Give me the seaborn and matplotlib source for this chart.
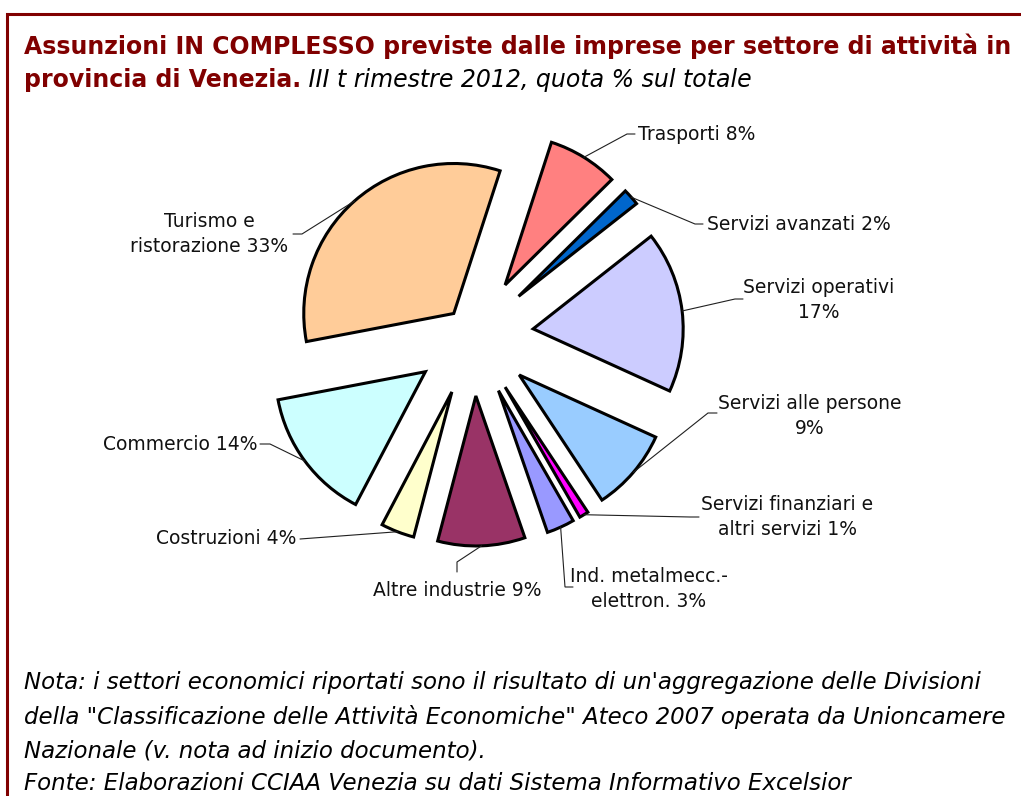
import matplotlib.pyplot as plt
import numpy as np
import seaborn as sns

# Sector shares (% of total hires), clockwise from the top
sectors = ["Trasporti", "Servizi avanzati", "Servizi operativi",
           "Servizi alle persone", "Servizi finanziari e altri servizi",
           "Ind. metalmecc.-elettron.", "Altre industrie", "Costruzioni",
           "Commercio", "Turismo e ristorazione"]
shares = [7.6, 1.8, 17.4, 8.9, 1.0, 3.0, 9.4, 3.6, 14.3, 33.0]
label_fmt = ["Trasporti {}%", "Servizi avanzati {}%", "Servizi operativi\n{}%",
             "Servizi alle persone\n{}%", "Servizi finanziari e\naltri servizi {}%",
             "Ind. metalmecc.-\nelettron. {}%", "Altre industrie {}%",
             "Costruzioni {}%", "Commercio {}%", "Turismo e\nristorazione {}%"]
colors = ["#FF8080", "#0066CC", "#CCCCFF", "#99CCFF", "#FF00FF",
          "#9999FF", "#993366", "#FFFFCC", "#CCFFFF", "#FFCC99"]

title_1 = "Assunzioni IN COMPLESSO previste dalle imprese per settore di attività in"
title_2 = "provincia di Venezia."
subtitle = " III t rimestre 2012, quota % sul totale"
notes = ["Nota: i settori economici riportati sono il risultato di un'aggregazione delle Divisioni",
         "della \"Classificazione delle Attività Economiche\" Ateco 2007 operata da Unioncamere",
         "Nazionale (v. nota ad inizio documento).",
         "Fonte: Elaborazioni CCIAA Venezia su dati Sistema Informativo Excelsior"]

W, H = 1021, 796
DARK_RED = "#800000"
RADIUS = 150

sns.set_theme(style="white")
plt.rcParams['font.family'] = ['DejaVu Sans']


def px(x, y):
    # pixel position measured from the top-left corner
    return x, H - y


fig = plt.figure(figsize=(W / 100, H / 100), dpi=100)
ax = fig.add_axes([0, 0, 1, 1])

# explode is an absolute offset here (same units as the radius)
explode = [0.2 * RADIUS if s.startswith("Turismo") else 0.4 * RADIUS
           for s in sectors]
wedges, _ = ax.pie(shares, colors=sns.color_palette(colors), explode=explode,
                   startangle=72, counterclock=False, radius=RADIUS,
                   center=px(473.6, 336), frame=False,
                   wedgeprops=dict(edgecolor="black", linewidth=2.2,
                                   joinstyle="miter"))
ax.set_xlim(0, W)
ax.set_ylim(0, H)
ax.set_aspect("equal")
ax.axis("off")

# label layout: text position, alignment, elbow and end of the leader line
layout = [
    ((638, 134), "left", (627, 134), (635, 134)),
    ((707, 224), "left", (695, 224), (703, 224)),
    ((819, 300), "center", (735, 299), (743, 299)),
    ((810, 416), "center", (708, 413), (717, 413)),
    ((787, 517), "center", (690, 517), (699, 517)),
    ((649, 589), "center", (565, 587), (573, 587)),
    ((457, 590), "center", (457, 562), (457, 572)),
    ((296, 539), "right", (300, 539), (300, 539)),
    ((257, 444), "right", (270, 444), (260, 444)),
    ((209, 234), "center", (302, 234), (293, 234)),
]

for w, share, fmt, (pos, ha, elbow, end) in zip(wedges, shares, label_fmt, layout):
    mid = np.deg2rad((w.theta1 + w.theta2) / 2)
    sx = w.center[0] + w.r * np.cos(mid)
    sy = w.center[1] + w.r * np.sin(mid)
    ex, ey = px(*elbow)
    nx, ny = px(*end)
    ax.plot([sx, ex, nx], [sy, ey, ny], color="#202020", lw=0.8,
            solid_joinstyle="miter")
    ax.text(*px(*pos), fmt.format(round(share)), ha=ha, va="center",
            multialignment="center", fontsize=13.5, linespacing=1.35,
            color="#111111")

# title
ax.text(*px(24, 54), title_1, fontsize=17, fontweight="bold",
        color=DARK_RED, va="baseline", ha="left")
t2 = ax.text(*px(24, 87), title_2, fontsize=17, fontweight="bold",
             color=DARK_RED, va="baseline", ha="left")
ax.annotate(subtitle, xy=(1, 0), xycoords=t2, va="bottom", ha="left",
            fontsize=17, fontstyle="italic", color="black")

# notes
for line, y in zip(notes, [689, 724, 758, 790]):
    ax.text(*px(24, y), line, fontsize=16.5, fontstyle="italic",
            color="black", va="baseline", ha="left")

# frame
ax.plot([6.5, 6.5, W], [0, H - 13.5, H - 13.5], color=DARK_RED, lw=2.2,
        solid_joinstyle="miter", clip_on=False)

fig.savefig("out.png", dpi=100)
